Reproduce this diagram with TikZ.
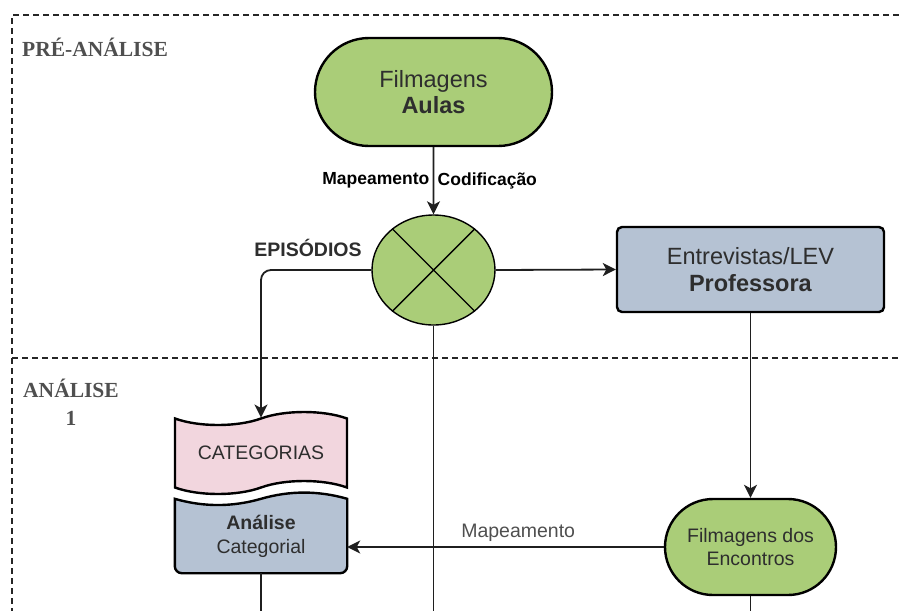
\documentclass[tikz,border=0pt]{standalone}
\usepackage{fontspec}
\setmainfont{Liberation Sans}
\newfontfamily\slabfont{Liberation Serif}
\usetikzlibrary{shapes,shapes.misc,shapes.symbols,arrows.meta,backgrounds,calc,positioning}

\definecolor{leaf}{HTML}{AACD78}
\definecolor{slate}{HTML}{B5C2D3}
\definecolor{rose}{HTML}{F2D6DE}
\definecolor{ink}{HTML}{2E2E2E}
\definecolor{phase}{HTML}{4F4F4F}

\tikzset{
  frame/.style={line width=1.1pt, dash pattern=on 6pt off 4pt, draw=black!85},
  phaselbl/.style={text=phase, align=center, font=\slabfont\bfseries\fontsize{21.5}{28}\selectfont},
  terminal/.style={rounded rectangle, draw, line width=2.4pt, fill=leaf, text=ink, align=center, inner sep=0pt},
  decision/.style={ellipse, draw, line width=1.4pt, fill=leaf, inner sep=0pt, minimum width=123pt, minimum height=110pt},
  process/.style={rectangle, rounded corners=5pt, draw, line width=2.4pt, fill=slate, text=ink, align=center},
  tapebox/.style={tape, draw, line width=2.4pt, fill=rose, text=ink, align=center, tape bend height=13pt},
  conn/.style={line width=1.8pt, draw=black!88},
  edgelbl/.style={text=black, font=\bfseries\fontsize{17.5}{20}\selectfont}
}

\begin{document}
\begin{tikzpicture}[x=1pt, y=-1pt, >={Stealth[length=13pt,width=13pt,inset=3.5pt]}]
  \useasboundingbox (0,0) rectangle (899,611);
  \coordinate (floor) at (0,611);

  % phases
  \draw[frame] (899,15) -- (12,15) -- (12,611);
  \draw[frame] (12,358) -- (899,358);
  \node[phaselbl] (pre) at (95,47) {PRÉ-ANÁLISE};
  \node[phaselbl] (ana) at (71,402) {ANÁLISE\\1};

  % nodes
  \node[terminal, minimum width=237pt, minimum height=108pt,
        font=\fontsize{23.5}{26}\selectfont] (film) at (433.5,92) {Filmagens\\\textbf{Aulas}};
  \node[decision] (sel) at (433.5,270) {};
  \draw[line width=1.4pt] (sel.135) -- (sel.315) (sel.45) -- (sel.225);
  \node[font=\bfseries\fontsize{19.5}{22}\selectfont, text=ink] (epi) at (308,248) {EPISÓDIOS};

  \node[process, minimum width=267pt, minimum height=85pt,
        font=\fontsize{23.5}{27}\selectfont] (entr) at (750.5,269.5) {Entrevistas/LEV\\\textbf{Professora}};
  \node[terminal, minimum width=171pt, minimum height=96pt,
        font=\fontsize{19.5}{23}\selectfont] (fenc) at (750.5,547) {Filmagens dos\\Encontros};

  \node[tapebox, minimum width=172pt, minimum height=82pt,
        font=\fontsize{19.5}{23}\selectfont] (cat) at (261,453) {CATEGORIAS};
  \node[minimum width=172pt, minimum height=74pt, text=ink, align=center,
        font=\fontsize{19.5}{24}\selectfont] (anl) at (261,536) {\textbf{Análise}\\Categorial};
  \begin{scope}[on background layer]
    \draw[line width=2.4pt, fill=slate] (anl.west) [rounded corners=7pt] -- (anl.south west) -- (anl.south east)
      -- (anl.east) [sharp corners] -- (anl.north east)
      .. controls +(-28.7,-8.3) and +(28.7,-8.3) .. (anl.north)
      .. controls +(-28.7,8.3) and +(28.7,8.3) .. (anl.north west) -- cycle;
  \end{scope}

  % connectors
  \draw[conn,->] (film) -- (sel)
    node[edgelbl, midway, left=0pt] (lblmap) {Mapeamento}
    node[edgelbl, midway, right=0pt] (lblcod) {Codificação};
  \draw[conn,->, rounded corners=10pt] (sel.west) -| (cat.north);
  \draw[conn,->] (sel.east) -- (entr.west);
  \draw[conn] (sel.south) -- (sel.south |- floor);
  \draw[conn,->] (entr.south) -- (fenc.north);
  \draw[conn] (fenc.south) -- (fenc.south |- floor);
  \draw[conn] (anl.south) -- (anl.south |- floor);
  \draw[conn,->] (fenc.west) -- (anl.east |- fenc.west)
    node[pos=0.46, above=1pt, text=phase, font=\fontsize{19.5}{22}\selectfont] (lblmap2) {Mapeamento};

\end{tikzpicture}
\end{document}
